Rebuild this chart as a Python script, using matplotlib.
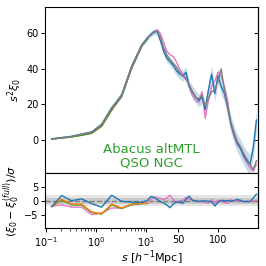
import numpy as np
import matplotlib
matplotlib.use("Agg")
import matplotlib.pyplot as plt
from matplotlib.ticker import FixedLocator, FixedFormatter

# ---- data ----
s_log = [0.13, 0.206, 0.326, 0.517, 0.82, 1.3, 2.06, 3.26, 5.17, 8.2]
s_lin = [12, 16, 20, 24, 28, 32, 36, 40, 44, 48, 52, 56, 60, 64, 68, 72, 76, 80,
         84, 88, 92, 96, 100, 104, 108, 112, 116, 120, 124, 128, 132, 136, 140, 144, 148]
s_all = s_log + s_lin
s_short = s_log + [12]

full_s2xi = [0.3, 1.0, 1.7, 2.9, 4.2, 8.6, 17.5, 25.5, 41.0, 53.2,
             57.5, 59.0, 60.5, 61.5, 58.0, 52.0, 48.0, 45.0, 43.0, 41.0, 38.0, 36.0,
             34.0, 31.0, 27.0, 24.0, 23.0, 25.0, 19.0, 23.0, 27.0, 28.0, 33.0, 40.0,
             28.0, 19.0, 10.0, 4.0, -1.0, -4.0, -8.0, -11.0, -14.0, -17.0, -12.0]
blue_s2xi = [0.4, 1.1, 1.8, 3.1, 4.3, 8.6, 18.0, 25.0, 41.5, 53.5,
             57.6, 59.5, 61.0, 61.0, 56.0, 50.0, 46.0, 44.0, 42.0, 39.0, 37.0, 36.0,
             38.0, 30.0, 27.0, 24.0, 22.0, 24.0, 17.0, 28.0, 37.0, 26.0, 36.0, 30.0,
             26.0, 18.0, 9.0, 3.0, -2.0, -5.0, -9.0, -12.0, -14.0, -5.0, 11.0]
blue_err = [0.05, 0.1, 0.15, 0.25, 0.3, 0.5, 0.8, 1.0, 1.2, 1.4,
            1.5, 1.6, 1.6, 1.8, 2.0, 2.1, 2.3, 2.4, 2.6, 2.7, 2.9, 3.0,
            3.1, 3.3, 3.4, 3.5, 3.6, 3.8, 3.9, 4.0, 4.2, 4.3, 4.4, 4.5,
            4.6, 4.8, 4.9, 5.0, 5.1, 5.2, 5.4, 5.5, 5.6, 5.7, 5.8]
pink_s2xi = [0.3, 0.9, 1.5, 2.6, 3.5, 7.4, 16.5, 24.2, 40.2, 52.6,
             57.5, 59.5, 61.0, 62.0, 60.0, 55.0, 50.0, 48.0, 47.0, 44.0, 40.0, 37.0,
             35.0, 30.0, 25.0, 22.0, 21.0, 27.0, 12.0, 22.0, 30.0, 33.0, 38.0, 36.0,
             30.0, 22.0, 8.0, 2.0, -3.0, -5.0, -10.0, -13.0, -16.0, -18.0, -14.0]
orange_s2xi = [0.3, 0.8, 1.5, 2.4, 3.6, 7.6, 16.7, 24.5, 40.5, 53.0, 57.0]
green_s2xi = [0.3, 0.8, 1.5, 2.4, 3.6, 7.7, 16.8, 24.6, 40.6, 53.0, 57.0]

blue_res = [-2.1, 1.9, 0.0, 0.7, -1.0, -2.3, 2.0, -0.2, -0.5, -0.6,
            0.2, 1.5, 1.2, 0.5, -0.3, -0.8, -1.5, -2.5, -1.2, -0.3, -0.6, -0.9,
            0.5, 1.7, 0.2, 0.0, -0.3, -0.1, 0.0, -0.2, -0.3, -1.9, -0.5, 0.2,
            0.0, 0.1, -0.1, 0.1, 0.5, 0.2, -0.3, -0.3, -0.3, 1.0, 2.4]
pink_res = [-2.0, -1.4, -2.3, -2.3, -5.0, -4.4, -2.6, -2.6, -1.4, -1.0,
            -0.8, 0.5, 1.4, 1.1, 0.8, 0.5, 1.0, 2.0, 0.5, -0.7, 0.0, 0.2,
            1.2, 0.6, 0.2, -0.2, 0.0, -0.3, -0.6, -0.9, 0.5, -0.9, 0.2, -0.2,
            -0.6, -0.9, 0.5, -0.3, 0.2, -0.1, -0.3, 0.0, -0.2, 0.1, 0.0]
orange_res = [-2.1, 0.6, -1.2, -1.2, -4.0, -4.7, -1.2, -2.6, -1.2, -0.9, -0.9]
green_res = [-2.1, 0.3, -1.5, -1.5, -4.2, -4.8, -1.5, -2.8, -1.4, -1.0, -1.0]

major_ticks = [0.1, 1, 10, 50, 100]
major_labels = ['$10^{-1}$', '$10^{0}$', '$10^{1}$', '50', '100']
minor_ticks = [0.2, 0.3, 0.4, 0.5, 0.6, 0.7, 0.8, 0.9, 2, 3, 4, 5, 6, 7, 8, 9]

# ---- scale: log below 10, linear above ----
A = 0.016

def fwd(s):
    s = np.asarray(s, dtype=float)
    lg = np.log10(np.clip(s, 1e-6, None))
    return np.where(s <= 10, lg, 1 + (s - 10) * A)

def inv(x):
    x = np.asarray(x, dtype=float)
    return np.where(x <= 1, 10 ** np.clip(x, -10, 1), 10 + (x - 1) / A)

C_BLUE, C_ORANGE, C_GREEN, C_PINK, C_GRAY = '#1f77b4', '#ff7f0e', '#2ca02c', '#e377c2', '#7f7f7f'

fig = plt.figure(figsize=(2.66, 2.66), dpi=100)
gs = fig.add_gridspec(2, 1, height_ratios=[3, 1], hspace=0,
                      left=0.169, right=0.970, top=0.974, bottom=0.141)
ax1 = fig.add_subplot(gs[0])
ax2 = fig.add_subplot(gs[1], sharex=ax1)

for ax in (ax1, ax2):
    ax.set_xscale('function', functions=(fwd, inv))

lw = 1.0
b = np.array(blue_s2xi)
e = np.array(blue_err)
ax1.fill_between(s_all, b - e, b + e, color=C_BLUE, alpha=0.25, lw=0)
ax1.plot(s_all, pink_s2xi, color=C_PINK, lw=lw)
ax1.plot(s_short, orange_s2xi, color=C_ORANGE, lw=lw)
ax1.plot(s_short, green_s2xi, color=C_GREEN, lw=lw)
ax1.plot(s_all, blue_s2xi, color=C_BLUE, lw=lw)
ax1.plot(s_all, full_s2xi, color=C_GRAY, lw=lw)
ax1.set_ylim(-19, 75)
ax1.set_yticks([0, 20, 40, 60])
ax1.set_ylabel(r'$s^2\xi_0$', fontsize=8, labelpad=2)
ax1.text(0.5, 0.10, 'Abacus altMTL\nQSO NGC', transform=ax1.transAxes,
         ha='center', va='center', color=C_GREEN, fontsize=9.5, linespacing=1.0)

ax2.axhspan(-2, 2, color='gray', alpha=0.2, lw=0)
ax2.axhspan(-1, 1, color='gray', alpha=0.25, lw=0)
ax2.axhline(0, color=C_GRAY, ls='--', lw=1.0)
ax2.plot(s_all, pink_res, color=C_PINK, lw=lw)
ax2.plot(s_short, green_res, color=C_GREEN, lw=lw)
ax2.plot(s_short, orange_res, color=C_ORANGE, lw=lw)
ax2.plot(s_all, blue_res, color=C_BLUE, lw=lw)
ax2.set_ylim(-10, 10)
ax2.set_yticks([-5, 0, 5])
ax2.set_ylabel(r'$(\xi_0-\xi_0^{(full)})/\sigma$', fontsize=8, labelpad=2)
ax2.set_xlabel(r'$s$ [$h^{-1}$Mpc]', fontsize=8, labelpad=0)

ax2.set_xlim(0.0955, 150)
ax2.xaxis.set_major_locator(FixedLocator(major_ticks))
ax2.xaxis.set_major_formatter(FixedFormatter(major_labels))
ax2.xaxis.set_minor_locator(FixedLocator(minor_ticks))
ax2.xaxis.set_minor_formatter(FixedFormatter([]))
plt.setp(ax1.get_xticklabels(), visible=False)
ax1.tick_params(axis='x', which='both', bottom=False)

for ax in (ax1, ax2):
    ax.tick_params(labelsize=7, length=3, width=0.7, pad=1.5)
    ax.tick_params(which='minor', length=1.8, width=0.5)
    sec = ax.secondary_yaxis('right')
    sec.set_yticks(ax.get_yticks())
    sec.tick_params(direction='in', labelright=False, length=3, width=0.7)

fig.savefig('out.png', dpi=100)
